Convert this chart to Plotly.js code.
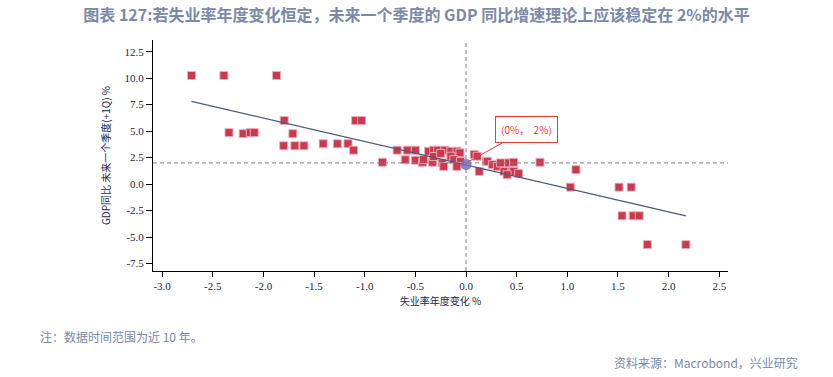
<!DOCTYPE html>
<html><head><meta charset="utf-8">
<script src="https://cdn.plot.ly/plotly-3.0.1.min.js"></script>
<style>body{margin:0;background:#fff}#c{width:833px;height:377px}</style>
</head><body><div id="c"></div>
<script>
// Scatter data: unemployment annual change (%) vs next-quarter GDP yoy (%)
const unempChange = [-2.71,-2.39,-1.87,-1.795,-2.34,-2.20,-2.13,-2.09,-1.71,-1.80,-1.69,-1.60,-1.41,-1.27,-1.165,-1.11,-1.09,-1.03,
  -0.825,-0.68,-0.58,-0.50,-0.60,-0.50,-0.43,-0.37,-0.32,-0.28,-0.21,-0.15,-0.09,-0.06,-0.42,-0.33,-0.235,-0.22,-0.15,-0.12,-0.055,-0.09,-0.32,-0.25,
  0.08,0.11,0.13,0.20,0.21,0.26,0.31,0.34,0.375,0.42,0.455,0.47,0.47,0.405,0.52,0.73,1.085,1.03,1.51,1.63,1.54,1.65,1.71,1.79,2.17];
const gdpNextQ = [10.25,10.25,10.25,6.0,4.86,4.76,4.86,4.86,4.76,3.62,3.62,3.62,3.81,3.81,3.81,3.2,6.0,6.0,
  2.06,3.2,3.2,3.2,2.3,2.25,2.06,3.1,3.2,3.2,3.2,3.1,3.1,2.95,2.31,2.06,2.0,1.67,2.63,2.31,2.15,1.67,2.6,2.9,
  2.8,2.63,1.2,2.15,2.15,1.84,1.67,2.0,1.2,2.0,1.2,2.06,1.2,0.89,1.0,2.06,1.36,-0.29,-0.29,-0.29,-2.99,-2.99,-2.99,-5.71,-5.71];
// fitted regression line endpoints
const fitX = [-2.71, 2.17];
const fitY = [7.81, -3.0];
// highlighted point and reference lines
const focusX = [0];
const focusY = [1.85];
const refX = 0;
const refY = 2;
const xRange = [-3.09, 2.586];
const yRange = [-8.2, 13.6];
const xTicks = [-3.0,-2.5,-2.0,-1.5,-1.0,-0.5,0.0,0.5,1.0,1.5,2.0,2.5];
const yTicks = [-7.5,-5.0,-2.5,0.0,2.5,5.0,7.5,10.0,12.5];
const fmt = v => v.toFixed(1);

const tickFont = {family:'"Liberation Serif", "DejaVu Serif", serif', size:11, color:'#1c2747'};
const cjk = '"Noto Sans CJK SC", "Noto Sans", sans-serif';

const traces = [
  {x: unempChange, y: gdpNextQ, type:'scatter', mode:'markers',
   marker:{symbol:'square', size:8, color:'#c93a4f', line:{color:'rgba(240,175,190,0.9)', width:1}},
   hoverinfo:'skip'},
  {x: fitX, y: fitY, type:'scatter', mode:'lines', line:{color:'#4c5a7c', width:1.2}, hoverinfo:'skip'},
  {x: focusX, y: focusY, type:'scatter', mode:'markers',
   marker:{symbol:'circle', size:11, color:'rgba(110,110,200,0.85)'}, hoverinfo:'skip'}
];

const layout = {
  width:833, height:377, showlegend:false,
  paper_bgcolor:'#fff', plot_bgcolor:'#fff',
  margin:{l:153, r:105, t:40, b:106},
  title:{text:'图表 127:若失业率年度变化恒定，未来一个季度的 GDP 同比增速理论上应该稳定在 2%的水平',
         font:{family:cjk, size:16, color:'#7b8aa8', weight:'bold'},
         x:0.5, xanchor:'center', y:1-15/377, yanchor:'middle', yref:'container'},
  xaxis:{range:xRange, showgrid:false, zeroline:false, showline:true, linecolor:'#000', linewidth:1,
         ticks:'outside', ticklen:5, tickcolor:'#000', tickvals:xTicks, ticktext:xTicks.map(fmt),
         tickfont:tickFont,
         title:{text:'失业率年度变化 %', font:{family:cjk, size:10, color:'#1c2747'}, standoff:6}},
  yaxis:{range:yRange, showgrid:false, zeroline:false, showline:true, linecolor:'#000', linewidth:1,
         ticks:'outside', ticklen:6, tickcolor:'#000', tickvals:yTicks, ticktext:yTicks.map(fmt),
         tickfont:tickFont,
         title:{text:'GDP同比 未来一个季度(+1Q) %', font:{family:cjk, size:10, color:'#1c2747'}, standoff:12}},
  shapes:[
    {type:'line', xref:'x', yref:'y', x0:xRange[0], x1:xRange[1], y0:refY, y1:refY,
     line:{color:'#808080', width:1, dash:'4px,3px'}},
    {type:'line', xref:'x', yref:'y', x0:refX, x1:refX, y0:yRange[0], y1:yRange[1],
     line:{color:'#808080', width:1, dash:'4px,3px'}}
  ],
  annotations:[
    {x:refX, y:refY, xref:'x', yref:'y', text:'(0%，  2%)', showarrow:true, arrowhead:0, arrowwidth:1,
     arrowcolor:'#f03a3a', ax:60, ay:-33, font:{family:cjk, size:10, color:'#f03a3a'},
     bordercolor:'#f03a3a', borderwidth:1, borderpad:5, bgcolor:'#fff'},
    {xref:'paper', yref:'paper', x:(38-153)/575, y:-(336-271)/231, xanchor:'left', yanchor:'middle', showarrow:false,
     text:'注：数据时间范围为近 10 年。', font:{family:cjk, size:12, color:'#7b8aa8'}},
    {xref:'paper', yref:'paper', x:(800-153)/575, y:-(362-271)/231, xanchor:'right', yanchor:'middle', showarrow:false,
     text:'资料来源：Macrobond，兴业研究', font:{family:cjk, size:12, color:'#7b8aa8'}}
  ]
};
Plotly.newPlot('c', traces, layout, {staticPlot:true, displayModeBar:false});
</script></body></html>
